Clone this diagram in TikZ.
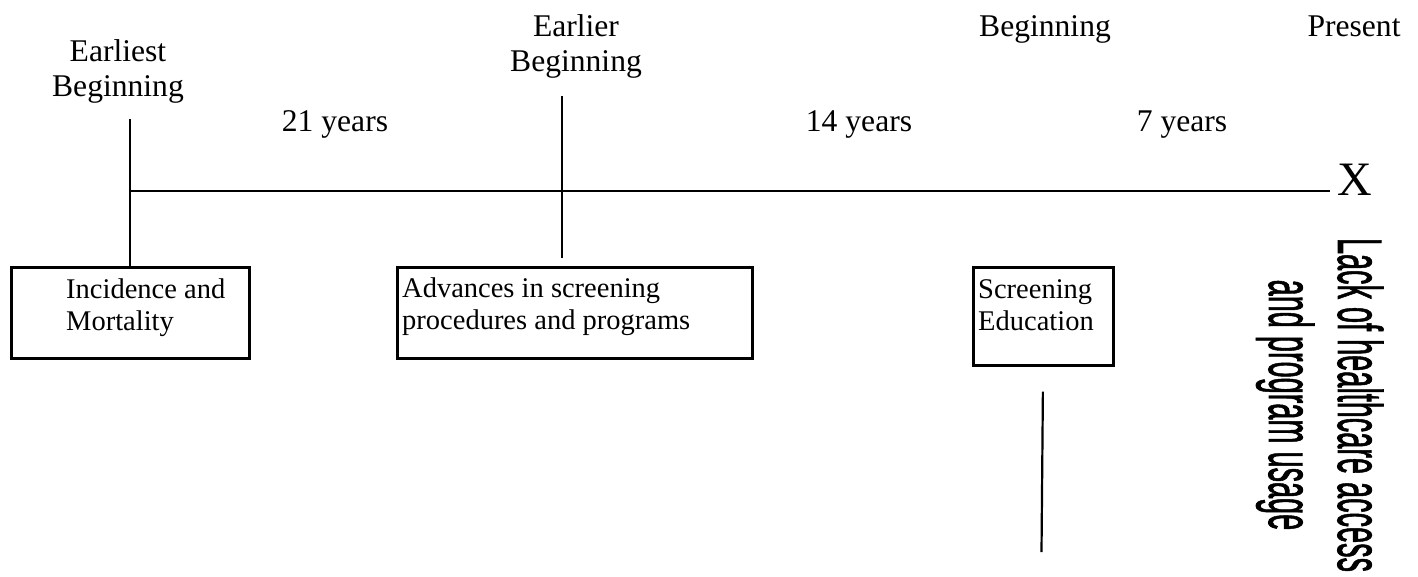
\documentclass[tikz,border=0pt]{standalone}
\usepackage{fontspec}
\setmainfont{Liberation Serif}
\newfontfamily\lackfont[FakeBold=1.5]{Liberation Sans}
\begin{document}
\begin{tikzpicture}[x=1pt,y=-1pt,
  labeltext/.style={inner sep=0pt, anchor=base, align=center, font=\fontsize{31.6}{35}\selectfont},
  boxtext/.style={inner sep=0pt, anchor=base west, align=left, font=\fontsize{28.5}{32}\selectfont},
  boxnode/.style={draw, line width=3.2pt, inner sep=0pt, anchor=north west},
  tline/.style={line width=2.2pt}
]
\useasboundingbox (0,0) rectangle (1418,576);

% top labels (base = baseline of last line)
\node[labeltext] (lab1) at (118,96) {Earliest\\Beginning};
\node[labeltext] (lab2) at (576,71) {Earlier\\Beginning};
\node[labeltext] (lab3) at (1045,36) {Beginning};
\node[labeltext] (lab4) at (1354,36) {Present};
\node[labeltext] (y21) at (335,131) {21 years};
\node[labeltext] (y14) at (859,131) {14 years};
\node[labeltext] (y7) at (1182,131) {7 years};

% boxes
\node[boxnode, minimum width=238, minimum height=91] (b1) at (9.5,265.5) {};
\node[boxnode, minimum width=355, minimum height=91] (b2) at (395.5,265.5) {};
\node[boxnode, minimum width=140, minimum height=98] (b3) at (971.5,265.5) {};
\node[boxtext] (t1) at (66,330) {Incidence and\\Mortality};
\node[boxtext] (t2) at (402,329) {Advances in screening\\procedures and programs};
\node[boxtext] (t3) at (978,330) {Screening\\Education};

% end mark
\node[inner sep=0pt, anchor=base west, font=\fontsize{48}{50}\selectfont] (xend) at (1337,195) {X};

% rotated text
\node[rotate=-90, yscale=2.17, anchor=base, inner sep=0pt, align=center,
      font=\lackfont\fontsize{28.9}{31.8}\selectfont] (lack) at (1269,405)
  {Lack of healthcare access\\and program usage};

% timeline and ticks
\coordinate (tl0) at (130,191);
\coordinate (tl1) at (1330,191);
\coordinate (e1) at (130,119);
\coordinate (e2) at (562,96);
\coordinate (e3) at (1041.5,552);
\draw[tline] (tl0) -- (tl1);
\draw[tline] (e1) -- (e1 |- b1.north);
\draw[tline, shorten >=8pt] (e2) -- (e2 |- b2.north);
\draw[tline, shorten <=25pt] (b3.south) -- (e3);
\end{tikzpicture}
\end{document}
